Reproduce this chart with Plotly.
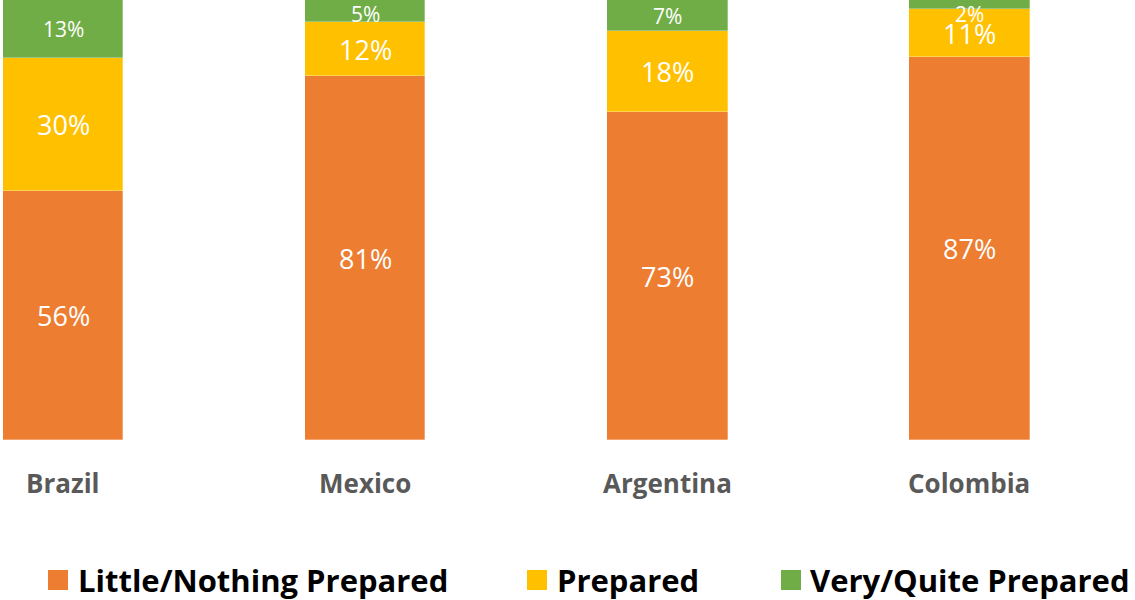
import plotly.graph_objects as go

# Survey results: share of respondents by preparedness level
countries = ["Brazil", "Mexico", "Argentina", "Colombia"]
little_nothing = [56, 81, 73, 87]
prepared = [30, 12, 18, 11]
very_quite = [13, 5, 7, 2]

series_names = ["Little/Nothing Prepared", "Prepared", "Very/Quite Prepared"]
series_values = [little_nothing, prepared, very_quite]
series_colors = ["#ED7D31", "#FFC000", "#70AD47"]
label_sizes = [27, 27, 21]

W, H = 1135, 600
PLOT_H = 440

fig = go.Figure()
for name, vals, color in zip(series_names, series_values, series_colors):
    fig.add_trace(go.Bar(
        x=countries, y=vals, name=name,
        marker=dict(color=color, line=dict(color="rgba(255,255,255,0.6)", width=0.5)),
        width=0.4, showlegend=False, hoverinfo="skip",
    ))

# 100% stacked columns: labels sit at the centre of each normalised segment,
# kept far enough below the top edge to stay fully inside the chart
top_limit = 100 - 14 / (PLOT_H / 100)
annotations = []
for ci, c in enumerate(countries):
    total = sum(v[ci] for v in series_values)
    base = 0.0
    for si, vals in enumerate(series_values):
        share = vals[ci] / total * 100
        mid = base + share / 2
        base += share
        annotations.append(dict(
            x=c, y=min(mid, top_limit), xref="x", yref="y", text=f"{vals[ci]}%",
            showarrow=False, font=dict(family="Open Sans", size=label_sizes[si], color="white"),
        ))

# category names under the bars
for c in countries:
    annotations.append(dict(
        x=c, y=(PLOT_H - 483) / PLOT_H, xref="x", yref="paper", text=f"<b>{c}</b>",
        showarrow=False, yanchor="middle",
        font=dict(family="Open Sans", size=26, color="#595959"),
    ))

# legend row
shapes = []
legend_sq_x = [48, 527, 781]
legend_txt_x = [76, 555, 808]
leg_y = 580
for name, color, sx, tx in zip(series_names, series_colors, legend_sq_x, legend_txt_x):
    shapes.append(dict(
        type="rect", xref="paper", yref="paper",
        x0=sx / W, x1=(sx + 20) / W,
        y0=(PLOT_H - (leg_y + 10)) / PLOT_H, y1=(PLOT_H - (leg_y - 10)) / PLOT_H,
        fillcolor=color, line=dict(width=0),
    ))
    annotations.append(dict(
        x=tx / W, y=(PLOT_H - leg_y) / PLOT_H, xref="paper", yref="paper",
        text=f"<b>{name}</b>", showarrow=False, xanchor="left", yanchor="middle",
        font=dict(family="Open Sans", size=31, color="black"),
    ))

fig.update_layout(
    width=W, height=H,
    barmode="stack", barnorm="percent",
    margin=dict(l=0, r=0, t=0, b=H - PLOT_H),
    paper_bgcolor="white", plot_bgcolor="white",
    xaxis=dict(range=[-0.2086, 3.549], showticklabels=False, showgrid=False,
               zeroline=False, showline=False, ticks=""),
    yaxis=dict(range=[0, 100], visible=False, showgrid=False, zeroline=False),
    annotations=annotations, shapes=shapes,
    bargap=0,
)

fig.write_html("out.html")
